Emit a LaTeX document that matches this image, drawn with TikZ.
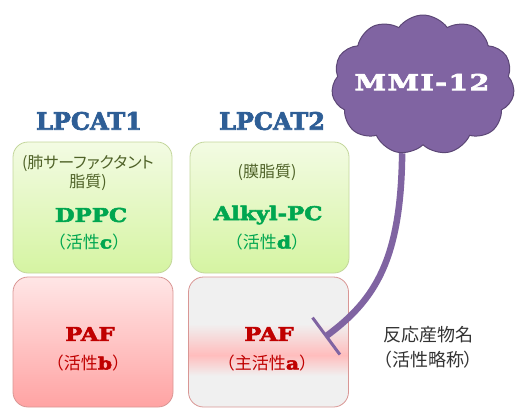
\documentclass[tikz,border=0pt]{standalone}
\usepackage{fontspec}
\usetikzlibrary{shapes.symbols,arrows.meta}
\newfontfamily\jp{Noto Sans CJK JP}
\newfontfamily\jpp[RawFeature=+palt]{Noto Sans CJK JP}
\newfontfamily\heavy[FakeStretch=1.2,FakeBold=3]{DejaVu Serif}
\newfontfamily\heavyn[FakeBold=3]{DejaVu Serif}
\newfontfamily\cloudf[FakeStretch=1.3,FakeBold=3,LetterSpace=6]{DejaVu Serif}
\definecolor{lpblue}{HTML}{2E5E96}
\definecolor{dgreen}{HTML}{00A650}
\definecolor{olive}{HTML}{4F6228}
\definecolor{dred}{HTML}{C00000}
\definecolor{cpurple}{HTML}{8064A2}
\definecolor{cborder}{HTML}{5C4776}
\definecolor{gtop}{HTML}{F3FBE3}
\definecolor{gbot}{HTML}{D5F4A2}
\definecolor{gline}{HTML}{C3D69B}
\definecolor{ptop}{HTML}{FFE6E6}
\definecolor{pbot}{HTML}{FFA3A3}
\definecolor{pline}{HTML}{D99694}
\definecolor{pgray}{HTML}{F0F0F0}
\definecolor{ppink}{HTML}{FFBDBD}
\definecolor{ttgray}{HTML}{333333}
\pgfdeclareverticalshading{pafband}{100bp}{color(0bp)=(pgray); color(37bp)=(pgray); color(45bp)=(ppink); color(57bp)=(pgray); color(100bp)=(pgray)}
\newcommand{\lat}[1]{{\heavy\bfseries #1}}
\tikzset{
  gbox/.style={rectangle, rounded corners=15pt, minimum width=159pt, minimum height=131pt, top color=gtop, bottom color=gbot, draw=gline, line width=0.8pt},
  pbox/.style={rectangle, rounded corners=15pt, minimum width=160pt, minimum height=130pt, draw=pline, line width=0.8pt},
  enz/.style={font=\heavyn\bfseries\fontsize{24}{26}\selectfont, text=lpblue, inner sep=0pt},
  prod/.style={font=\heavy\bfseries\fontsize{19}{21}\selectfont, inner sep=0pt},
  act/.style={font=\jp\fontsize{17}{19}\selectfont, inner sep=0pt},
  note/.style={font=\jpp\fontsize{16}{18}\selectfont, text=olive, inner sep=0pt},
  inh/.style={line width=6.5pt, draw=cpurple, -{Bar[width=46pt,line width=3pt]}},
}
\begin{document}
\begin{tikzpicture}[x=1pt,y=-1pt]
\useasboundingbox (0,0) rectangle (519,408);
% boxes
\node[gbox] (g1) at (92.5,207.5) {};
\node[gbox] (g2) at (269.5,207.5) {};
\node[pbox, top color=ptop, bottom color=pbot] (p1) at (93,342) {};
\node[pbox, shading=pafband] (p2) at (268.5,342) {};
% headers
\node[enz] (l1) at (89,121) {LPCAT1};
\node[enz] (l2) at (272,121) {LPCAT2};
% green box texts
\node[note] (n1a) at (88,163) {(肺サーファクタント};
\node[note] (n1b) at (88,182) {脂質)};
\node[note] (n2) at (267,172) {(膜脂質)};
\node[prod, text=dgreen] (d1) at (91,215) {DPPC};
\node[act, text=dgreen] (a1) at (89,242) {（活性\lat{c}）};
\node[prod, text=dgreen] (d2) at (268,215) {Alkyl-PC};
\node[act, text=dgreen] (a2) at (267,242) {（活性\lat{d}）};
% pink box texts
\node[prod, text=dred] (f1) at (90,334) {PAF};
\node[act, text=dred] (b1) at (88,363) {（活性\lat{b}）};
\node[prod, text=dred] (f2) at (269,334) {PAF};
\node[act, text=dred] (b2) at (267,363) {（主活性\lat{a}）};
% legend
\node[font=\jpp\fontsize{18}{20}\selectfont, text=ttgray, inner sep=0pt] (lg1) at (428,335) {反応産物名};
\node[font=\jpp\fontsize{18}{20}\selectfont, text=ttgray, inner sep=0pt] (lg2) at (428,360) {（活性略称）};
% cloud
\node[cloud, cloud puffs=11, cloud puff arc=110, aspect=1.3, minimum width=183pt, minimum height=140pt, fill=cpurple, draw=cborder, line width=1pt, inner sep=0pt] (mmi) at (423,85) {};
\node[text=white, inner sep=0pt, font=\cloudf\bfseries\fontsize{22}{24}\selectfont] (mmit) at (422,82) {MMI-12};
\coordinate (tee) at (325,337);
\draw[inh] (mmi.-107) .. controls (401,260) and (375,300) .. (tee);
\end{tikzpicture}
\end{document}
